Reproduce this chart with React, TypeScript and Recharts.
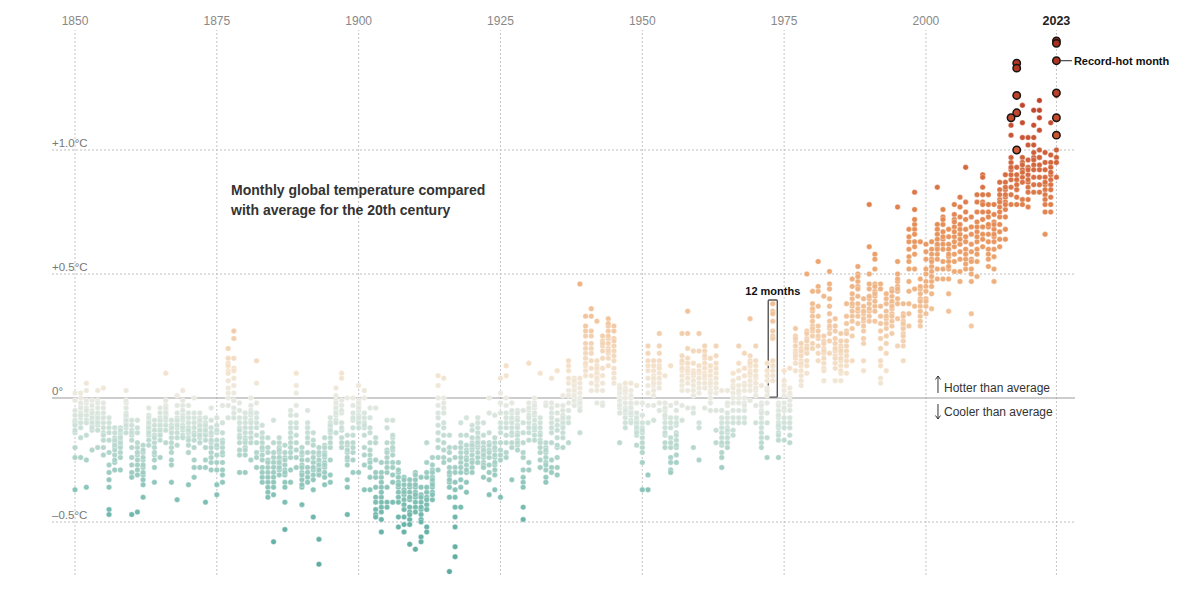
import React from 'react';
import { ScatterChart, Scatter, XAxis, YAxis, ReferenceLine, ReferenceArea, ReferenceDot } from 'recharts';

// Monthly global temperature anomalies (hundredths of °C vs. 20th-century average), Jan..Dec per row
const FIRST_YEAR = 1850;
const anom1850s = [
  [-37,-24,-14,-9,-5,2,-1,-7,-10,-13,-20,-11],
  [-24,-16,-10,-6,-3,2,0,-4,-8,-12,-7,-2],
  [6,3,-2,-4,-7,-9,-10,-15,-25,-36,-5,-1],
  [-1,-5,-7,-9,-11,-13,-21,-3,-8,-10,-6,-12],
  [3,-1,-7,-9,-11,-13,-20,-4,-6,-2,-8,-10],
  [4,-4,-10,-12,-14,-17,-20,-23,-8,-6,-15,-2],
  [-8,-10,-12,-14,-17,-27,-30,-33,-36,-45,-47,-22],
  [-16,-18,-20,-23,-26,-29,-12,-14,-21,-25,-19,-17],
  [-15,-17,-19,-20,-29,-12,-14,-22,-18,-16,-13,-24],
  [3,-2,-6,-8,-10,-12,-14,-4,-1,-9,-11,-7],
];
const anom1860s = [
  [-9,-11,-13,-15,-17,-24,-27,-30,-32,-47,-20,-14],
  [-9,-23,-25,-27,-29,-46,-20,-18,-14,-31,-12,-22],
  [-19,-22,-25,-28,-31,-33,-35,-40,-24,-27,-30,-21],
  [-4,-7,-9,-11,-13,-15,-17,-19,-12,-8,-14,-10],
  [-9,-11,-13,-23,-34,-18,-15,-20,-25,-28,-16,-22],
  [-4,-8,-10,-12,-14,-17,-24,-6,-9,-11,-13,-15],
  [10,-3,-5,-7,-9,-11,-13,-18,-1,-4,-6,-8],
  [-9,-11,-13,-20,-22,-25,-27,-34,-16,-18,-14,-12],
  [1,-3,-8,-10,-12,-14,-16,-19,-41,-6,-9,-11],
  [3,-3,-7,-9,-11,-13,-15,-16,-5,-1,-8,-12],
];
const anom1870s = [
  [-3,-8,-10,-12,-14,-16,-19,-22,-35,-6,-13,-17],
  [0,-8,-10,-12,-14,-17,-25,-28,-32,-6,-15,-20],
  [-8,-10,-12,-14,-16,-18,-28,-6,-11,-13,-15,-9],
  [-8,-10,-12,-14,-17,-25,-28,-42,-20,-15,-11,-13],
  [-4,-9,-12,-15,-18,-22,-26,-29,-20,-14,-24,-17],
  [-8,-11,-14,-17,-20,-23,-26,-29,-35,-39,-19,-13],
  [-3,-14,-17,-20,-23,-26,-29,-31,-34,-22,-18,-10],
  [20,14,13,11,7,4,0,-3,-8,2,10,16],
  [27,24,16,12,11,8,5,2,-1,-4,-6,-8],
  [-2,-5,-8,-12,-13,-15,-16,-18,-21,-23,-30,-10],
];
const anom1880s = [
  [-6,-8,-10,-12,-14,-16,-17,-18,-20,-21,-23,-30],
  [0,-3,-5,-7,-9,-12,-14,-16,-18,-25,-6,-10],
  [15,6,-2,-6,-10,-12,-15,-18,-22,-24,-28,-8],
  [-11,-14,-16,-18,-21,-23,-25,-28,-30,-32,-34,-20],
  [-16,-20,-22,-25,-28,-30,-32,-34,-36,-38,-40,-26],
  [-9,-24,-26,-28,-30,-32,-34,-36,-39,-58,-22,-18],
  [-20,-25,-27,-29,-31,-22,-18,-16,-24,-28,-26,-21],
  [-19,-24,-29,-34,-42,-53,-27,-31,-22,-25,-30,-36],
  [-5,-7,-12,-14,-16,-18,-20,-24,-29,-34,-22,-10],
  [10,5,2,-3,-12,-18,-21,-24,-28,-15,-10,-7],
];
const anom1890s = [
  [-20,-23,-25,-30,-36,-43,-27,-33,-22,-28,-31,-35],
  [-5,-10,-12,-14,-22,-25,-28,-30,-32,-34,-18,-16],
  [-14,-17,-19,-22,-26,-29,-31,-37,-48,-24,-28,-33],
  [-20,-23,-26,-28,-30,-57,-67,-31,-25,-22,-27,-29],
  [-16,-19,-22,-24,-26,-28,-30,-32,-35,-23,-27,-20],
  [-8,-10,-12,-14,-16,-20,-25,-31,-34,-18,-13,-11],
  [4,1,-1,-3,-5,-7,-9,-14,-6,-2,-4,-10],
  [10,8,-1,-3,-6,-10,-13,-16,-18,-20,-12,-5],
  [0,-15,-19,-22,-25,-33,-36,-47,-27,-21,-18,-24],
  [0,-3,-6,-9,-18,-22,-25,-30,-20,-12,-15,-8],
];
const anom1900s = [
  [5,-1,-3,-5,-7,-9,-10,-30,-12,-8,-4,-2],
  [3,0,-8,-10,-12,-20,-23,-27,-37,-15,-11,-6],
  [-4,-8,-21,-23,-25,-26,-32,-37,-18,-14,-28,-12],
  [-4,-16,-18,-32,-40,-42,-45,-47,-48,-30,-25,-36],
  [-26,-32,-34,-36,-44,-46,-49,-54,-40,-38,-30,-42],
  [-9,-18,-21,-24,-26,-36,-42,-44,-30,-22,-12,-28],
  [-9,-16,-18,-21,-26,-34,-42,-20,-23,-15,-28,-31],
  [-26,-30,-32,-34,-36,-38,-40,-42,-48,-52,-35,-29],
  [-32,-35,-37,-39,-41,-43,-48,-51,-54,-38,-33,-45],
  [-33,-36,-38,-41,-44,-46,-49,-51,-59,-40,-35,-47],
];
const anom1910s = [
  [-30,-33,-36,-38,-40,-42,-61,-35,-31,-44,-46,-39],
  [-32,-39,-42,-45,-47,-49,-56,-58,-44,-40,-36,-50],
  [-18,-32,-38,-40,-43,-45,-52,-54,-36,-30,-26,-41],
  [-24,-32,-34,-36,-38,-41,-33,-29,-27,-35,-39,-30],
  [9,5,0,-6,-8,-11,-14,-17,-20,-24,-29,-3],
  [8,0,-4,-12,-18,-21,-24,-26,-15,-10,-6,-2],
  [-15,-20,-25,-28,-31,-34,-36,-40,-70,-30,-22,-33],
  [-20,-24,-28,-30,-34,-40,-48,-52,-60,-64,-37,-44],
  [-10,-26,-33,-44,-30,-28,-22,-18,-24,-36,-20,-15],
  [-8,-15,-21,-24,-27,-30,-34,-38,-25,-19,-29,-22],
];
const anom1920s = [
  [-11,-18,-21,-23,-25,-28,-20,-16,-26,-30,-13,-19],
  [-8,-14,-17,-20,-24,-26,-12,-16,-19,-22,-10,-18],
  [-10,-18,-22,-24,-26,-32,-20,-27,-21,-15,-28,-23],
  [0,-6,-18,-21,-24,-27,-30,-33,-39,-22,-14,-19],
  [-7,-18,-21,-24,-27,-29,-37,-23,-20,-26,-16,-31],
  [8,2,-6,-10,-14,-18,-21,-23,-25,-40,-12,-2],
  [13,9,0,-6,-8,-12,-15,-18,-22,-24,-10,-3],
  [-2,-6,-9,-12,-15,-18,-33,-10,-5,-14,-20,-8],
  [-5,-8,-11,-14,-17,-19,-21,-12,-9,-15,-18,-6],
  [-5,-10,-14,-18,-24,-29,-32,-34,-36,-44,-49,-22],
];
const anom1930s = [
  [14,-2,-5,-7,-10,-14,-26,-29,-12,-4,-8,-17],
  [0,-2,-4,-7,-9,-11,-13,-15,-17,-6,-3,-12],
  [10,-10,-14,-17,-22,-25,-28,-20,-12,-8,-15,-18],
  [-2,-3,-20,-22,-24,-26,-29,-32,-34,-18,-27,-21],
  [8,-2,-4,-6,-25,-28,-30,-10,-14,-8,-18,-12],
  [11,-3,-9,-11,-20,-24,-28,-31,-16,-6,-13,-19],
  [1,-5,-7,-9,-11,-20,-14,-3,-16,-10,-8,-12],
  [15,13,11,6,3,1,-5,-8,-10,-18,-2,8],
  [8,6,4,2,0,-2,-3,7,5,-1,3,1],
  [6,2,-3,-4,-5,-14,0,-1,4,8,-2,46],
];
const anom1940s = [
  [33,27,22,20,18,16,13,11,9,14,25,29],
  [36,33,27,25,22,20,18,15,12,9,6,3],
  [31,15,13,11,9,7,5,3,-2,10,12,8],
  [25,23,21,-2,-3,3,6,9,12,16,19,22],
  [32,29,27,24,22,20,18,16,13,25,30,19],
  [29,27,24,21,19,17,12,10,8,6,15,23],
  [5,3,1,0,-2,-4,-18,-6,2,-1,4,-3],
  [6,4,2,0,-2,-4,-6,-8,-10,-12,3,-5],
  [6,3,0,-3,-5,-7,-9,-10,-2,1,-6,-4],
  [5,-9,-11,-13,-15,-19,-6,-8,-10,-12,-14,-2],
];
const anom1950s = [
  [-37,-26,-16,-20,-14,-12,-18,-22,-2,-7,-10,-13],
  [-31,-37,-10,-3,2,5,8,11,13,15,18,21],
  [15,11,9,7,5,3,-3,-9,1,6,13,8],
  [26,21,18,15,13,10,6,4,-2,-5,8,12],
  [9,-2,-5,-8,-10,-12,-15,-18,-20,-4,-7,-14],
  [13,-3,-8,-12,-16,-20,-24,-26,-29,-30,-10,-18],
  [-2,-8,-11,-14,-17,-20,-23,-26,-15,-10,-5,-19],
  [26,17,14,11,9,7,5,-3,-9,3,12,15],
  [35,26,20,16,12,10,8,6,3,-4,14,11],
  [19,11,9,7,5,3,-4,-6,-20,1,10,14],
];
const anom1960s = [
  [26,19,13,10,8,6,4,-10,-12,-25,2,11],
  [21,19,16,14,12,10,8,6,4,-4,9,17],
  [16,11,9,7,5,3,0,-2,-5,13,6,2],
  [21,17,10,8,6,-5,-13,-18,4,12,2,14],
  [3,-8,-12,-14,-16,-19,-22,-24,-28,-10,-18,-5],
  [3,-3,-8,-10,-12,-14,-16,-18,-20,-6,-13,-2],
  [10,7,5,2,-2,-5,-8,-10,-13,-15,0,4],
  [21,14,11,8,5,2,-2,-5,-8,-10,0,3],
  [18,12,9,6,3,0,-2,-5,-8,-10,5,-3],
  [32,17,15,13,11,9,7,5,3,-1,10,14],
];
const anom1970s = [
  [21,15,13,11,8,6,3,1,-3,-10,4,9],
  [5,-2,-5,-8,-10,-12,-14,-16,-18,-20,-6,-3],
  [-24,-16,-10,-6,-2,1,4,7,11,14,9,3],
  [38,35,34,31,27,25,24,15,13,11,9,7],
  [-2,-8,-10,-12,-14,-17,-24,-5,-3,-7,-11,-15],
  [11,7,3,-2,-5,-8,-10,-17,1,-4,-12,5],
  [12,4,1,-1,-3,-5,-8,-12,-15,-18,-10,2],
  [28,25,23,21,19,18,16,14,11,21,24,17],
  [22,20,18,15,13,11,7,5,9,17,19,14],
  [50,27,24,21,19,18,15,13,10,20,23,26],
];
const anom1980s = [
  [43,38,35,33,29,27,25,22,20,31,36,28],
  [55,45,43,37,29,27,24,21,18,15,25,33],
  [41,23,20,18,16,14,12,11,7,19,22,25],
  [51,46,44,37,34,31,28,26,23,18,40,29],
  [32,27,22,19,17,14,12,7,20,24,29,16],
  [26,21,18,15,13,10,7,23,20,16,11,19],
  [38,33,27,23,19,15,10,21,26,30,17,13],
  [48,45,40,37,35,33,28,15,25,31,38,42],
  [53,50,47,45,41,38,35,33,30,44,49,36],
  [40,37,34,31,29,22,15,11,27,35,24,32],
];
const anom1990s = [
  [78,61,50,44,40,38,35,33,31,41,46,36],
  [58,56,52,46,43,41,37,35,31,39,42,45],
  [46,44,37,33,30,27,20,13,8,6,15,24],
  [42,40,38,35,32,30,18,11,28,25,22,33],
  [44,41,38,36,34,31,26,29,33,39,43,37],
  [77,55,50,47,45,43,40,32,21,44,48,38],
  [38,34,31,29,26,23,21,15,33,28,25,30],
  [68,63,57,52,47,43,38,34,29,60,65,55],
  [83,76,70,68,63,58,52,44,37,61,66,72],
  [63,48,44,42,37,33,29,45,40,35,31,39],
];
const anom2000s = [
  [62,56,50,47,45,40,37,43,52,34,39,59],
  [63,60,58,56,53,51,47,45,42,36,55,49],
  [85,70,68,66,64,61,58,56,52,48,62,60],
  [76,73,70,67,64,62,60,55,52,48,65,72],
  [62,60,57,55,52,48,42,35,58,65,68,53],
  [78,74,72,69,65,61,58,55,51,67,71,63],
  [81,77,73,70,66,62,59,56,51,47,64,68],
  [93,79,75,72,68,65,63,56,52,60,58,54],
  [29,34,73,69,66,62,59,56,52,47,55,50],
  [82,79,75,71,67,63,60,58,55,49,65,69],
];
const anom2010s = [
  [90,89,82,79,75,72,69,66,61,64,78,85],
  [82,78,73,69,66,63,60,58,56,53,70,75],
  [78,74,71,68,65,63,60,57,52,47,66,70],
  [87,84,80,77,73,70,67,64,61,75,79,82],
  [90,87,84,81,79,76,73,68,64,85,78,82],
  [92,95,97,85,82,78,88,90,93,110,106,113],
  [122,135,133,115,100,93,90,88,86,84,81,78],
  [97,118,111,105,95,92,89,87,80,78,94,91],
  [87,90,105,102,96,93,85,83,80,77,92,88],
  [97,110,116,105,99,96,94,92,89,86,83,102],
];
const anom2020s = [
  [113,120,116,108,97,94,92,89,86,83,100,97],
  [86,75,92,89,87,84,82,80,78,95,99,66],
  [111,98,95,93,90,88,86,84,81,78,75,91],
  [89,97,122,100,95,106,113,123,144,143,136],
];

const decades = [anom1850s, anom1860s, anom1870s, anom1880s, anom1890s, anom1900s, anom1910s,
  anom1920s, anom1930s, anom1940s, anom1950s, anom1960s, anom1970s, anom1980s, anom1990s,
  anom2000s, anom2010s, anom2020s];

const yearTicks = [1850, 1875, 1900, 1925, 1950, 1975, 2000];
const lastYear = 2023;
const tempTicks = [1.0, 0.5, 0, -0.5];
const tempTickLabels = ['+1.0°C', '+0.5°C', '0°', '\u20130.5°C'];
const highlightYear = 1973;
const titleLines = ['Monthly global temperature compared', 'with average for the 20th century'];

type Pt = { year: number; month: number; value: number };
const points: Pt[] = [];
decades.flat().forEach((row, i) => {
  row.forEach((h, m) => points.push({ year: FIRST_YEAR + i, month: m + 1, value: h / 100 }));
});
// record month = warmest value for that calendar month
const recordPoints: Pt[] = [];
for (let m = 1; m <= 12; m++) {
  const ofMonth = points.filter((p) => p.month === m);
  if (!ofMonth.length) continue;
  const best = ofMonth.reduce((a, b) => (b.value > a.value ? b : a));
  recordPoints.push(best);
}
const latest = points[points.length - 1];
const highlightVals = points.filter((p) => p.year === highlightYear).map((p) => p.value);
const highlightMax = Math.max(...highlightVals);

const STOPS: [number, number[]][] = [
  [-0.7, [92, 170, 158]],
  [-0.5, [106, 181, 170]],
  [-0.35, [142, 198, 187]],
  [-0.25, [170, 210, 200]],
  [-0.1, [208, 226, 218]],
  [0.0, [234, 234, 226]],
  [0.1, [244, 227, 206]],
  [0.3, [242, 200, 162]],
  [0.5, [238, 172, 120]],
  [0.7, [230, 141, 86]],
  [0.9, [214, 108, 64]],
  [1.15, [192, 72, 46]],
  [1.45, [164, 46, 30]],
];
function colorFor(v: number): string {
  if (v <= STOPS[0][0]) return `rgb(${STOPS[0][1].join(',')})`;
  for (let i = 1; i < STOPS.length; i++) {
    if (v <= STOPS[i][0]) {
      const [a, ca] = STOPS[i - 1];
      const [b, cb] = STOPS[i];
      const t = (v - a) / (b - a);
      const c = ca.map((x, k) => Math.round(x + (cb[k] - x) * t));
      return `rgb(${c.join(',')})`;
    }
  }
  return `rgb(${STOPS[STOPS.length - 1][1].join(',')})`;
}

const FONT = '"Liberation Sans", Arial, sans-serif';
const PX_PER_YEAR = 5.673;
const X_DOMAIN: [number, number] = [1850 - 23 / PX_PER_YEAR, 1850 + 1000 / PX_PER_YEAR];
const Y_DOMAIN: [number, number] = [1.4839 - 545 / 248, 1.4839];

const Dot = (p: any) => (
  <circle cx={p.cx} cy={p.cy} r={2.75} fill={colorFor(p.payload.value)} stroke="#ffffff" strokeWidth={0.5} strokeOpacity={0.7} />
);
const RecordDot = (p: any) => (
  <circle cx={p.cx} cy={p.cy} r={3.7} fill={colorFor(p.payload.value)} stroke="#151515" strokeWidth={1.5} />
);

export default function App() {
  return (
    <div style={{ position: 'absolute', left: 0, top: 0, width: 1200, height: 597, background: '#fff' }}>
      <ScatterChart width={1200} height={597} margin={{ top: 30, right: 125, bottom: 22, left: 52 }}>
        <XAxis type="number" dataKey="year" domain={X_DOMAIN} hide allowDataOverflow />
        <YAxis type="number" dataKey="value" domain={Y_DOMAIN} hide allowDataOverflow />
        {[...yearTicks, lastYear].map((y) => (
          <ReferenceLine key={'vx' + y} x={y} stroke="#c4c4c4" strokeDasharray="2 2" strokeWidth={1} />
        ))}
        {tempTicks.map((t, i) => (
          <ReferenceLine
            key={'hy' + t}
            y={t}
            stroke={t === 0 ? '#9a9a9a' : '#bdbdbd'}
            strokeDasharray={t === 0 ? undefined : '2 2'}
            strokeWidth={1}
            label={(props: any) => (
              <text x={props.viewBox.x} y={props.viewBox.y - 3.5} fontFamily={FONT} fontSize={11.5} fill="#777">
                {tempTickLabels[i]}
              </text>
            )}
          />
        ))}
        <ReferenceArea
          x1={highlightYear - 0.8}
          x2={highlightYear + 0.8}
          y1={0.003}
          y2={highlightMax + 0.015}
          fill="none"
          stroke="#555"
          strokeWidth={1.4}
          radius={1}
          ifOverflow="visible"
        />
        <Scatter data={points} isAnimationActive={false} shape={Dot} />
        <Scatter data={recordPoints} isAnimationActive={false} shape={RecordDot} />
        {[...yearTicks, lastYear].map((y) => (
          <ReferenceDot
            key={'yl' + y}
            x={y}
            y={Y_DOMAIN[1]}
            ifOverflow="visible"
            shape={(p: any) => (
              <text
                x={p.cx}
                y={p.cy - 5}
                textAnchor="middle"
                fontFamily={FONT}
                fontSize={y === lastYear ? 12.5 : 12}
                fontWeight={y === lastYear ? 700 : 400}
                fill={y === lastYear ? '#222' : '#888'}
              >
                {y}
              </text>
            )}
          />
        ))}
        <ReferenceDot
          x={highlightYear}
          y={highlightMax + 0.015}
          ifOverflow="visible"
          shape={(p: any) => (
            <text x={p.cx} y={p.cy - 5} textAnchor="middle" fontFamily={FONT} fontSize={11} fontWeight={700} fill="#111">
              12 months
            </text>
          )}
        />
        <ReferenceDot
          x={latest.year}
          y={latest.value}
          ifOverflow="visible"
          shape={(p: any) => (
            <g>
              <line x1={p.cx + 4.5} x2={p.cx + 15.5} y1={p.cy} y2={p.cy} stroke="#222" strokeWidth={1} />
              <text x={p.cx + 17.5} y={p.cy + 4} fontFamily={FONT} fontSize={11} fontWeight={700} fill="#111">
                Record-hot month
              </text>
            </g>
          )}
        />
        <ReferenceDot
          x={1877.5}
          y={(398 - 195) / 248}
          ifOverflow="visible"
          shape={(p: any) => (
            <text fontFamily={FONT} fontSize={14} fontWeight={700} fill="#333">
              {titleLines.map((l, i) => (
                <tspan key={i} x={p.cx} y={p.cy + i * 20}>
                  {l}
                </tspan>
              ))}
            </text>
          )}
        />
        <ReferenceDot
          x={2002.12}
          y={0}
          ifOverflow="visible"
          shape={(p: any) => (
            <g fontFamily={FONT} fontSize={12} fill="#333">
              <path d={`M${p.cx},${p.cy - 5} L${p.cx},${p.cy - 22} M${p.cx - 2.5},${p.cy - 18.5} L${p.cx},${p.cy - 22} L${p.cx + 2.5},${p.cy - 18.5}`} stroke="#333" strokeWidth={1} fill="none" />
              <text x={p.cx + 6} y={p.cy - 6.5}>Hotter than average</text>
              <path d={`M${p.cx},${p.cy + 6} L${p.cx},${p.cy + 21} M${p.cx - 2.5},${p.cy + 17.5} L${p.cx},${p.cy + 21} L${p.cx + 2.5},${p.cy + 17.5}`} stroke="#333" strokeWidth={1} fill="none" />
              <text x={p.cx + 6} y={p.cy + 17.5}>Cooler than average</text>
            </g>
          )}
        />
      </ScatterChart>
    </div>
  );
}
